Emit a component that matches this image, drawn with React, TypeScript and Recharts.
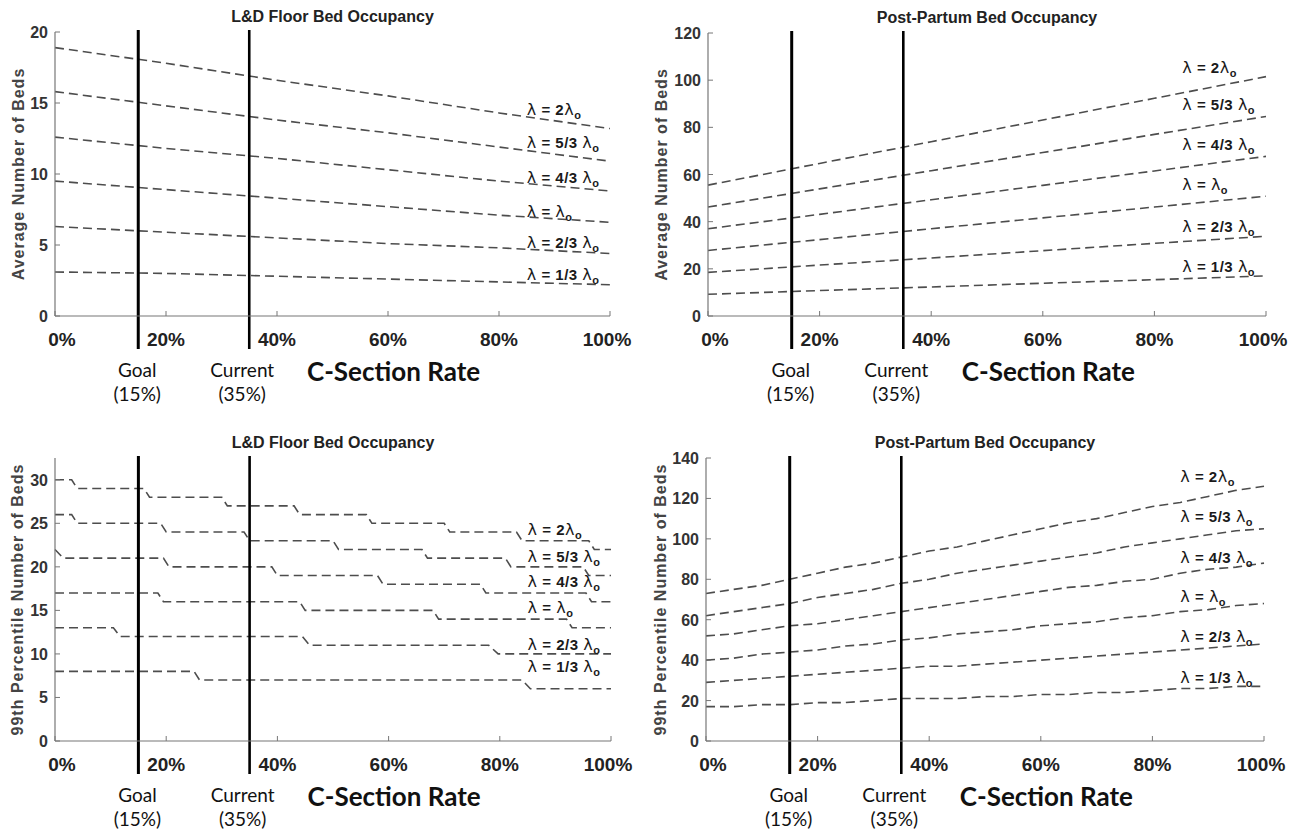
import React from "react";
import { LineChart, Line, XAxis, YAxis, ReferenceLine, ReferenceDot } from "recharts";

// C-section rate (%) where the values were read
const rateAvg = [0, 20, 40, 60, 80, 100];
const rateP99 = [0, 5, 10, 15, 20, 25, 30, 35, 40, 45, 50, 55, 60, 65, 70, 75, 80, 85, 90, 95, 100];
const rateTicks = [0, 20, 40, 60, 80, 100];

// arrival-rate multipliers, top curve first
const lambdaCoef = ["2", "5/3 ", "4/3 ", "", "2/3 ", "1/3 "];

// L&D floor, average beds
const ldAvg2 = [18.9, 17.8, 16.6, 15.5, 14.3, 13.2];
const ldAvg53 = [15.8, 14.8, 13.8, 12.9, 11.9, 10.9];
const ldAvg43 = [12.6, 11.8, 11.1, 10.3, 9.5, 8.8];
const ldAvg1 = [9.5, 8.9, 8.3, 7.7, 7.1, 6.6];
const ldAvg23 = [6.3, 5.9, 5.5, 5.1, 4.8, 4.4];
const ldAvg13 = [3.1, 3.0, 2.8, 2.6, 2.4, 2.2];

// post-partum, average beds
const ppAvg2 = [55.5, 64.7, 73.9, 83.1, 92.3, 101.5];
const ppAvg53 = [46.2, 53.9, 61.6, 69.3, 77.0, 84.6];
const ppAvg43 = [37.0, 43.1, 49.3, 55.4, 61.5, 67.7];
const ppAvg1 = [27.8, 32.4, 37.0, 41.6, 46.2, 50.8];
const ppAvg23 = [18.5, 21.6, 24.6, 27.7, 30.8, 33.8];
const ppAvg13 = [9.2, 10.8, 12.3, 13.9, 15.4, 17.0];

// L&D floor, 99th percentile beds: [rate, beds] at each step edge
const ldP99_2 = [[0, 30], [3, 30], [4, 29], [16, 29], [17, 28], [30, 28], [31, 27], [43, 27], [44, 26], [56, 26], [57, 25], [70, 25], [71, 24], [83, 24], [84, 23], [96, 23], [97, 22], [100, 22]];
const ldP99_53 = [[0, 26], [3, 26], [4, 25], [19, 25], [20, 24], [34, 24], [35, 23], [50, 23], [51, 22], [66, 22], [67, 21], [81, 21], [82, 20], [95, 20], [96, 19], [100, 19]];
const ldP99_43 = [[0, 22], [1.5, 21], [19.5, 21], [20.5, 20], [39, 20], [40, 19], [58, 19], [59, 18], [76.5, 18], [77.5, 17], [95.5, 17], [96.5, 16], [100, 16]];
const ldP99_1 = [[0, 17], [18.5, 17], [19.5, 16], [44, 16], [45, 15], [68, 15], [69, 14], [92, 14], [93, 13], [100, 13]];
const ldP99_23 = [[0, 13], [10.5, 13], [11.7, 12], [44.5, 12], [45.8, 11], [78, 11], [79.7, 10], [100, 10]];
const ldP99_13 = [[0, 8], [25, 8], [26, 7], [84, 7], [85.5, 6], [100, 6]];

// post-partum, 99th percentile beds
const ppP99_2 = [73, 75, 77, 80, 83, 86, 88, 91, 94, 96, 99, 102, 105, 108, 110, 113, 116, 118, 121, 124, 126];
const ppP99_53 = [62, 64, 66, 68, 71, 73, 75, 78, 80, 83, 85, 87, 89, 91, 93, 96, 98, 100, 102, 104, 105];
const ppP99_43 = [52, 53, 55, 57, 58, 60, 62, 64, 66, 68, 70, 72, 74, 76, 77, 79, 80, 83, 85, 86, 88];
const ppP99_1 = [40, 41, 43, 44, 45, 47, 48, 50, 51, 53, 54, 55, 57, 58, 59, 61, 62, 64, 65, 67, 68];
const ppP99_23 = [29, 30, 31, 32, 33, 34, 35, 36, 37, 37, 38, 39, 40, 41, 42, 43, 44, 45, 46, 47, 48];
const ppP99_13 = [17, 17, 18, 18, 19, 19, 20, 21, 21, 21, 22, 22, 23, 23, 24, 24, 25, 26, 26, 27, 27];

const toPoints = (xs: number[], ys: number[]) => xs.map((x, i) => ({ x, y: ys[i] }));
const pairsToPoints = (pairs: number[][]) => pairs.map(([x, y]) => ({ x, y }));

const SANS = "'Liberation Sans', Arial, sans-serif";
const HUMAN = "Lato, 'Open Sans', sans-serif";

const renderXTick = (props: any) => {
  const { x, y, payload } = props;
  const v = payload.value;
  const dx = v === 0 ? 7 : v === 100 ? -3 : 0;
  return (
    <g>
      <line x1={x} y1={y} x2={x} y2={y - 5} stroke="#777" strokeWidth={1} />
      <text x={x + dx} y={y + 30} textAnchor="middle" fontFamily={SANS} fontWeight="bold" fontSize={19} fill="#222">
        {v}%
      </text>
    </g>
  );
};

const renderYTick = (props: any) => {
  const { x, y, payload } = props;
  return (
    <g>
      <line x1={x} y1={y} x2={x + 5} y2={y} stroke="#777" strokeWidth={1} />
      <text x={x - 7} y={y + 6} textAnchor="end" fontFamily={SANS} fontWeight="bold" fontSize={16} fill="#333">
        {payload.value}
      </text>
    </g>
  );
};

function marker(name: string, pct: string, width: number, dx: number) {
  return (props: any) => {
    const x = props.x1;
    const top = Math.min(props.y1, props.y2);
    const bottom = Math.max(props.y1, props.y2);
    return (
      <g>
        <line x1={x} y1={top - 2} x2={x} y2={bottom + 33} stroke="#000" strokeWidth={width} />
        <text x={x + dx} y={bottom + 61} textAnchor="middle" fontFamily={HUMAN} fontSize={19} fill="#111">
          {name}
        </text>
        <text x={x + dx} y={bottom + 85} textAnchor="middle" fontFamily={HUMAN} fontSize={19} fill="#111">
          {pct}
        </text>
      </g>
    );
  };
}

function lambdaLabel(coef: string) {
  return (props: any) => (
    <text
      x={props.cx}
      y={props.cy}
      fontFamily={SANS}
      fontWeight="bold"
      fontSize={15}
      letterSpacing={0.5}
      fill="#1a1a1a"
      style={{ whiteSpace: "pre" }}
    >
      <tspan fontFamily="'DejaVu Sans'" fontWeight="normal" fontSize={16}>λ</tspan>
      <tspan>{" = " + coef}</tspan>
      <tspan fontFamily="'DejaVu Sans'" fontWeight="normal" fontSize={16}>λ</tspan>
      <tspan fontSize={11} dy={4}>o</tspan>
    </text>
  );
}

function axisTitle(props: any) {
  return (
    <text x={props.cx} y={props.cy + 65} textAnchor="middle" fontFamily={HUMAN} fontWeight="bold" fontSize={26} fill="#111">
      C-Section Rate
    </text>
  );
}

function yTitle(label: string, off: number) {
  return (props: any) => (
    <text
      x={props.cx - off}
      y={props.cy}
      transform={`rotate(-90 ${props.cx - off} ${props.cy})`}
      textAnchor="middle"
      dominantBaseline="central"
      fontFamily={SANS}
      fontWeight="bold"
      fontSize={16}
      letterSpacing={1}
      fill="#444"
    >
      {label}
    </text>
  );
}

interface PanelProps {
  left: number;
  top: number;
  width: number;
  height: number;
  margin: { top: number; right: number; bottom: number; left: number };
  title: string;
  yLabel: string;
  yLabelOff: number;
  yDomain: [number, number];
  yTicks: number[];
  series: { x: number; y: number }[][];
  labelX: number;
  labelY: number[];
}

function Panel(p: PanelProps) {
  const plotW = p.width - p.margin.left - p.margin.right;
  // axes take 1px each, so pull the margins in by one
  const m = { top: p.margin.top, right: p.margin.right, bottom: p.margin.bottom - 1, left: p.margin.left - 1 };
  return (
    <div style={{ position: "absolute", left: p.left, top: p.top, width: p.width, height: p.height }}>
      <div
        style={{
          position: "absolute",
          left: p.margin.left,
          width: plotW,
          top: p.margin.top - 24,
          textAlign: "center",
          fontFamily: SANS,
          fontWeight: "bold",
          fontSize: 16,
          lineHeight: "18px",
          color: "#222",
          whiteSpace: "nowrap",
        }}
      >
        {p.title}
      </div>
      <LineChart width={p.width} height={p.height} margin={m}>
        <XAxis
          type="number"
          dataKey="x"
          domain={[0, 100]}
          ticks={rateTicks}
          interval={0}
          height={1}
          tickSize={0}
          tickMargin={0}
          tickLine={false}
          tick={renderXTick}
          axisLine={{ stroke: "#777", strokeWidth: 1.2 }}
          allowDuplicatedCategory={false}
        />
        <YAxis
          type="number"
          domain={p.yDomain}
          ticks={p.yTicks}
          interval={0}
          width={1}
          tickSize={0}
          tickMargin={0}
          tickLine={false}
          tick={renderYTick}
          axisLine={{ stroke: "#777", strokeWidth: 1.2 }}
          allowDataOverflow
        />
        {p.series.map((s, i) => (
          <Line
            key={i}
            data={s}
            dataKey="y"
            type="linear"
            stroke="#4d4d4d"
            strokeWidth={1.6}
            strokeDasharray="9 5"
            dot={false}
            activeDot={false}
            isAnimationActive={false}
          />
        ))}
        <ReferenceLine x={15} shape={marker("Goal", "(15%)", 3, -1)} />
        <ReferenceLine x={35} shape={marker("Current", "(35%)", 2.6, -7)} />
        {p.labelY.map((v, i) => (
          <ReferenceDot key={i} x={p.labelX} y={v} shape={lambdaLabel(lambdaCoef[i])} />
        ))}
        <ReferenceDot x={61} y={p.yDomain[0]} shape={axisTitle} />
        <ReferenceDot x={0} y={(p.yDomain[0] + p.yDomain[1]) / 2} shape={yTitle(p.yLabel, p.yLabelOff)} />
      </LineChart>
    </div>
  );
}

export default function App() {
  return (
    <div style={{ position: "absolute", left: 0, top: 0, width: 1295, height: 832, background: "#fff", overflow: "hidden" }}>
      <Panel
        left={0}
        top={0}
        width={650}
        height={420}
        margin={{ top: 32, right: 40, bottom: 104, left: 55 }}
        title="L&D Floor Bed Occupancy"
        yLabel="Average Number of Beds"
        yLabelOff={37}
        yDomain={[0, 20]}
        yTicks={[0, 5, 10, 15, 20]}
        series={[ldAvg2, ldAvg53, ldAvg43, ldAvg1, ldAvg23, ldAvg13].map((s) => toPoints(rateAvg, s))}
        labelX={85}
        labelY={[14.15, 11.83, 9.37, 6.97, 4.79, 2.54]}
      />
      <Panel
        left={650}
        top={0}
        width={645}
        height={420}
        margin={{ top: 33, right: 29, bottom: 104, left: 58 }}
        title="Post-Partum Bed Occupancy"
        yLabel="Average Number of Beds"
        yLabelOff={47}
        yDomain={[0, 120]}
        yTicks={[0, 20, 40, 60, 80, 100, 120]}
        series={[ppAvg2, ppAvg53, ppAvg43, ppAvg1, ppAvg23, ppAvg13].map((s) => toPoints(rateAvg, s))}
        labelX={85}
        labelY={[103.2, 87.5, 70.5, 53.5, 35.7, 18.7]}
      />
      <Panel
        left={0}
        top={420}
        width={650}
        height={412}
        margin={{ top: 38, right: 39, bottom: 91, left: 55 }}
        title="L&D Floor Bed Occupancy"
        yLabel="99th Percentile Number of Beds"
        yLabelOff={38}
        yDomain={[0, 32.5]}
        yTicks={[0, 5, 10, 15, 20, 25, 30]}
        series={[ldP99_2, ldP99_53, ldP99_43, ldP99_1, ldP99_23, ldP99_13].map(pairsToPoints)}
        labelX={85}
        labelY={[23.7, 20.6, 17.7, 14.7, 10.4, 7.9]}
      />
      <Panel
        left={650}
        top={420}
        width={645}
        height={412}
        margin={{ top: 38, right: 31, bottom: 91, left: 56 }}
        title="Post-Partum Bed Occupancy"
        yLabel="99th Percentile Number of Beds"
        yLabelOff={46}
        yDomain={[0, 140]}
        yTicks={[0, 20, 40, 60, 80, 100, 120, 140]}
        series={[ppP99_2, ppP99_53, ppP99_43, ppP99_1, ppP99_23, ppP99_13].map((s) => toPoints(rateP99, s))}
        labelX={85}
        labelY={[127.9, 108.1, 88.2, 69, 49.1, 28.5]}
      />
    </div>
  );
}
